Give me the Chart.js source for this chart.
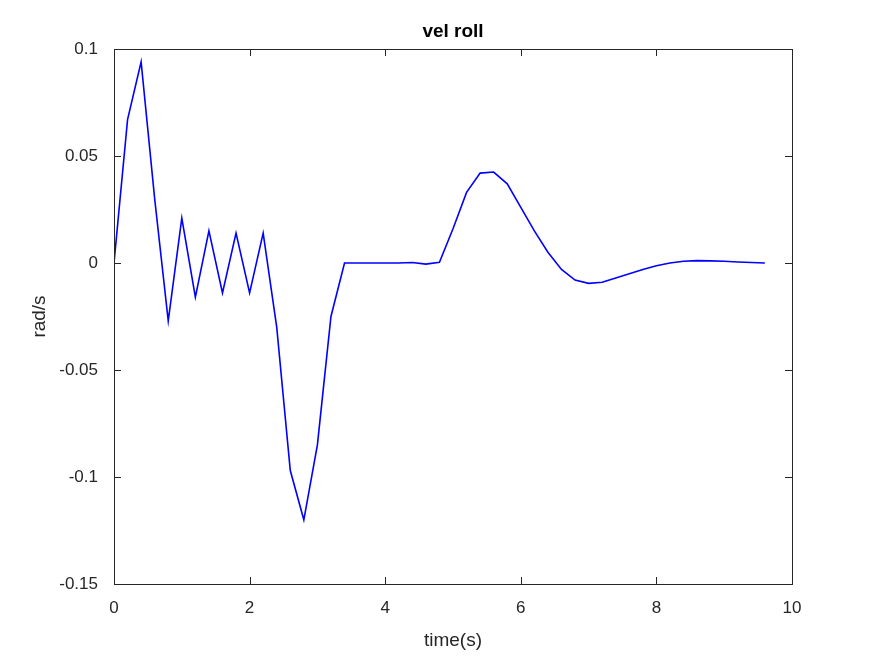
<!DOCTYPE html>
<html><head><meta charset="utf-8">
<script src="https://cdn.jsdelivr.net/npm/chart.js@4/dist/chart.umd.min.js"></script>
<style>html,body{margin:0;background:#fff}#c{display:block}</style>
</head><body>
<div style="width:875px;height:656px"><canvas id="c"></canvas></div>
<script>
var times = [0,0.2,0.4,0.6,0.8,1.0,1.2,1.4,1.6,1.8,2.0,2.2,2.4,2.6,2.8,3.0,3.2,3.4,3.6,3.8,4.0,4.2,4.4,4.6,4.8,5.0,5.2,5.4,5.6,5.8,6.0,6.2,6.4,6.6,6.8,7.0,7.2,7.4,7.6,7.8,8.0,8.2,8.4,8.6,8.8,9.0,9.2,9.4,9.6];
var velRoll = [0,0.067,0.094,0.03,-0.027,0.021,-0.016,0.015,-0.014,0.014,-0.014,0.014,-0.03,-0.097,-0.12,-0.085,-0.025,0,0,0,0,0,0.0002,-0.0005,0.0003,0.016,0.033,0.042,0.0425,0.037,0.026,0.015,0.005,-0.003,-0.008,-0.0095,-0.009,-0.007,-0.005,-0.003,-0.0013,0,0.0008,0.0011,0.001,0.0008,0.0005,0.0002,0];
var xTicks = [0,2,4,6,8,10];
var yTicks = [-0.15,-0.1,-0.05,0,0.05,0.1];

var font = {family:'Liberation Sans, Arial, sans-serif', size:17};
var frame = {
  id:'frame',
  afterDraw:function(ch){
    var c=ch.ctx, a=ch.chartArea, x=ch.scales.x, y=ch.scales.y;
    c.save();
    c.strokeStyle='#262626'; c.lineWidth=1;
    c.strokeRect(a.left+0.5,a.top+0.5,a.right-a.left,a.bottom-a.top);
    c.beginPath();
    xTicks.forEach(function(v){var p=Math.round(x.getPixelForValue(v))+0.5;
      c.moveTo(p,a.bottom);c.lineTo(p,a.bottom-7);c.moveTo(p,a.top);c.lineTo(p,a.top+7);});
    yTicks.forEach(function(v){var p=Math.round(y.getPixelForValue(v))+0.5;
      c.moveTo(a.left,p);c.lineTo(a.left+7,p);c.moveTo(a.right,p);c.lineTo(a.right-7,p);});
    c.stroke();
    c.fillStyle='#000'; c.font='bold 19px Liberation Sans, Arial, sans-serif';
    c.textAlign='center'; c.textBaseline='middle';
    c.fillText('vel roll',(a.left+a.right)/2,32);
    c.restore();
  }
};
new Chart(document.getElementById('c'),{
  type:'scatter',
  data:{datasets:[{
    data:times.map(function(t,i){return {x:t,y:velRoll[i]};}),
    showLine:true, borderColor:'#0000ff', borderWidth:1.6, pointRadius:0, fill:false, tension:0
  }]},
  options:{
    responsive:true, maintainAspectRatio:false, animation:false,
    layout:{padding:{top:49,right:83,left:0,bottom:0}},
    plugins:{legend:{display:false},tooltip:{enabled:false}},
    scales:{
      x:{type:'linear',min:0,max:10,
        afterBuildTicks:function(s){s.ticks=xTicks.map(function(v){return {value:v};});},
        afterFit:function(s){s.height=72;},
        grid:{display:false},border:{display:false},
        ticks:{color:'#262626',font:font,padding:6,maxRotation:0},
        title:{display:true,text:'time(s)',color:'#262626',font:{family:font.family,size:19},padding:{top:0}}
      },
      y:{type:'linear',min:-0.15,max:0.1,
        afterBuildTicks:function(s){s.ticks=yTicks.map(function(v){return {value:v};});},
        afterFit:function(s){s.width=114;},
        grid:{display:false},border:{display:false},
        ticks:{color:'#262626',font:font,padding:8,callback:function(v){return String(+v.toFixed(2));}},
        title:{display:true,text:'rad/s',color:'#262626',font:{family:font.family,size:19},padding:{top:28,bottom:0}}
      }
    }
  },
  plugins:[frame]
});
</script>
</body></html>
